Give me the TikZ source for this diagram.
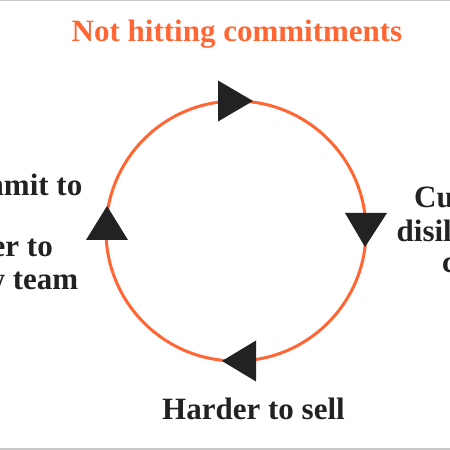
\documentclass[tikz,border=0pt]{standalone}
\usepackage{fontspec}
\setmainfont{Liberation Serif}
\definecolor{brandorange}{RGB}{255,102,51}
\definecolor{inkdark}{RGB}{34,34,34}
\definecolor{edgegray}{RGB}{200,200,200}
\begin{document}
\begin{tikzpicture}[x=1pt,y=1pt,
  lbl/.style={font=\fontsize{31}{36}\selectfont\bfseries, text=inkdark, inner sep=0pt},
  ttl/.style={font=\fontsize{31}{36}\selectfont\bfseries, text=brandorange, inner sep=0pt},
  ring/.style={circle, draw=brandorange, line width=3pt, minimum size=260pt, inner sep=0pt, outer sep=0pt},
  tri/.style={fill=inkdark},
  edge line/.style={draw=edgegray, line width=1.5pt}]
\useasboundingbox (0,0) rectangle (450,450);
\clip (0,0) rectangle (450,450);
\coordinate (tl) at (0,449.25);
\coordinate (tr) at (450,449.25);
\coordinate (bl) at (0,0.75);
\coordinate (br) at (450,0.75);
\draw[edge line] (tl) -- (tr);
\draw[edge line] (bl) -- (br);
% title
\node[ttl, anchor=base] (title) at (237,408) {Not hitting commitments};
% ring
\node[ring] (loop) at (236,219) {};
% arrows
\fill[tri] ([shift={(-18,20.5)}]loop.north) -- ([shift={(17,0)}]loop.north) -- ([shift={(-18,-20.5)}]loop.north) -- cycle;
\fill[tri] ([shift={(-21,18)}]loop.east) -- ([shift={(21,18)}]loop.east) -- ([shift={(-1,-16)}]loop.east) -- cycle;
\fill[tri] ([shift={(20,20.5)}]loop.south) -- ([shift={(-14,0)}]loop.south) -- ([shift={(20,-20.5)}]loop.south) -- cycle;
\fill[tri] ([shift={(-20,-9)}]loop.west) -- ([shift={(1,25)}]loop.west) -- ([shift={(22,-9)}]loop.west) -- cycle;
% bottom label
\node[lbl, anchor=base] (sell) at (253.5,30) {Harder to sell};
% right label lines
\node[lbl, anchor=base west] (r1) at (414,242) {Customers};
\node[lbl, anchor=base west] (r2) at (396.5,208) {disillusioned};
\node[lbl, anchor=base west] (r3) at (442,177) {churn};
% left label lines
\node[lbl, anchor=base east] (l1) at (82.5,254) {Afraid to commit to};
\node[lbl, anchor=base east] (l2) at (53,193) {Harder to};
\node[lbl, anchor=base east] (l3) at (78.5,160) {grow new team};
\end{tikzpicture}
\end{document}
